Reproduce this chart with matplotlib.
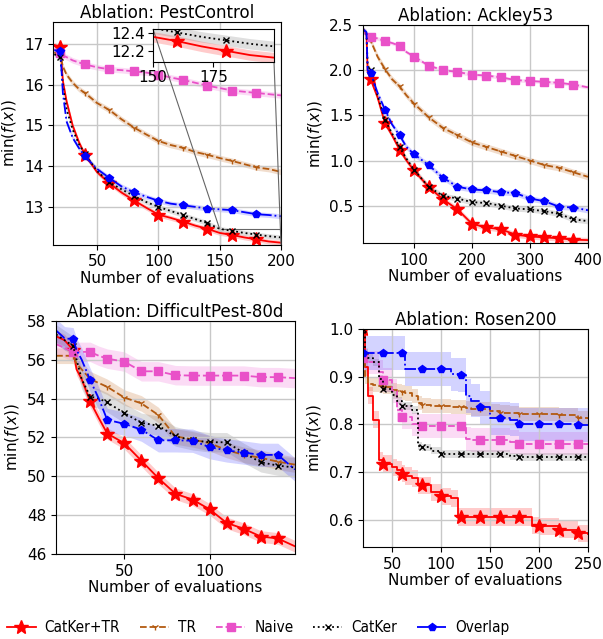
import matplotlib
matplotlib.use('Agg')
import matplotlib.pyplot as plt
from matplotlib.font_manager import FontProperties
from mpl_toolkits.axes_grid1.inset_locator import mark_inset

methods = ['CatKer+TR', 'TR', 'Naive', 'CatKer', 'Overlap']

# PestControl
x_pc = [15, 20, 22, 25, 30, 35, 40, 50, 60, 70, 80, 90, 100, 110, 120, 130, 140, 150, 160, 170, 180, 190, 200]
pc_catker_tr = [16.98, 16.92, 16.1, 15.6, 15.0, 14.6, 14.28, 13.85, 13.58, 13.35, 13.16, 12.98, 12.81, 12.73, 12.64, 12.54, 12.46, 12.36, 12.31, 12.25, 12.2, 12.15, 12.12]
pc_tr = [16.8, 16.7, 16.45, 16.25, 16.05, 15.9, 15.8, 15.55, 15.38, 15.15, 14.95, 14.78, 14.62, 14.52, 14.45, 14.35, 14.28, 14.2, 14.13, 14.05, 13.97, 13.93, 13.86]
pc_naive = [16.88, 16.78, 16.72, 16.68, 16.6, 16.55, 16.5, 16.43, 16.38, 16.36, 16.33, 16.3, 16.25, 16.18, 16.12, 16.05, 15.98, 15.92, 15.86, 15.83, 15.8, 15.77, 15.74]
pc_catker = [16.75, 16.68, 16.0, 15.4, 14.9, 14.55, 14.3, 13.88, 13.6, 13.43, 13.27, 13.12, 13.0, 12.9, 12.8, 12.7, 12.6, 12.46, 12.41, 12.36, 12.32, 12.28, 12.25]
pc_overlap = [16.85, 16.82, 15.8, 15.1, 14.7, 14.45, 14.24, 13.93, 13.71, 13.5, 13.36, 13.25, 13.15, 13.08, 13.04, 13.0, 12.96, 12.94, 12.92, 12.87, 12.82, 12.8, 12.77]
pc_err = [0.06, 0.07, 0.07, 0.06, 0.06]
pc_marks = [20, 40, 60, 80, 100, 120, 140, 160, 180]

# Ackley53
x_ak = [12, 18, 20, 25, 37, 50, 62, 75, 87, 100, 125, 150, 175, 200, 225, 250, 275, 300, 325, 350, 375, 400]
ak_catker_tr = [2.45, 2.4, 1.98, 1.9, 1.7, 1.41, 1.28, 1.12, 1.0, 0.89, 0.71, 0.57, 0.46, 0.3, 0.26, 0.24, 0.18, 0.16, 0.15, 0.14, 0.125, 0.12]
ak_tr = [2.45, 2.4, 2.36, 2.33, 2.15, 2.01, 1.9, 1.82, 1.72, 1.63, 1.48, 1.36, 1.28, 1.2, 1.15, 1.1, 1.05, 1.0, 0.95, 0.92, 0.87, 0.82]
ak_naive = [2.42, 2.39, 2.38, 2.37, 2.35, 2.32, 2.3, 2.27, 2.2, 2.15, 2.05, 2.0, 1.98, 1.95, 1.94, 1.92, 1.89, 1.88, 1.87, 1.86, 1.84, 1.81]
ak_catker = [2.45, 2.4, 2.05, 2.0, 1.72, 1.45, 1.3, 1.15, 1.02, 0.9, 0.71, 0.61, 0.58, 0.54, 0.53, 0.5, 0.47, 0.46, 0.44, 0.41, 0.35, 0.33]
ak_overlap = [2.45, 2.42, 2.0, 1.97, 1.75, 1.56, 1.4, 1.28, 1.15, 1.07, 0.95, 0.81, 0.71, 0.68, 0.67, 0.65, 0.64, 0.58, 0.55, 0.49, 0.48, 0.45]
ak_err = [0.03, 0.035, 0.02, 0.03, 0.03]
ak_marks = [25, 50, 75, 100, 125, 150, 175, 200, 225, 250, 275, 300, 325, 350, 375]

# DifficultPest-80d
x_dp = [10, 15, 20, 22, 25, 30, 35, 40, 50, 60, 70, 80, 90, 100, 110, 120, 130, 140, 150]
dp_catker_tr = [57.2, 57.0, 56.5, 55.5, 55.0, 53.85, 53.0, 52.2, 51.7, 50.8, 49.9, 49.1, 48.8, 48.3, 47.6, 47.3, 46.9, 46.8, 46.4]
dp_tr = [56.2, 56.2, 56.2, 55.8, 55.5, 55.0, 54.8, 54.6, 54.05, 53.75, 53.15, 52.05, 51.9, 51.7, 51.35, 51.1, 50.95, 50.75, 50.6]
dp_naive = [56.8, 56.6, 56.4, 56.4, 56.4, 56.4, 56.2, 56.05, 55.9, 55.4, 55.4, 55.2, 55.18, 55.18, 55.18, 55.18, 55.1, 55.1, 55.05]
dp_catker = [57.3, 57.0, 56.7, 56.0, 55.0, 54.1, 54.0, 53.8, 53.25, 52.75, 52.6, 52.05, 51.85, 51.75, 51.75, 51.2, 50.72, 50.55, 50.45]
dp_overlap = [57.5, 57.1, 57.05, 56.5, 56.0, 54.95, 54.0, 52.9, 52.7, 52.4, 51.85, 51.85, 51.83, 51.5, 51.33, 51.22, 51.1, 51.1, 50.35]
dp_err = [0.3, 0.4, 0.5, 0.5, 0.6]
dp_marks = [20, 30, 40, 50, 60, 70, 80, 90, 100, 110, 120, 130, 140]

# Rosen200
x_rs = [20, 22, 25, 30, 36, 40, 50, 55, 60, 63, 70, 76, 80, 90, 100, 110, 117, 120, 125, 130, 140, 150, 160, 170, 180, 193, 200, 220, 240, 250]
rs_catker_tr = [1.0, 0.92, 0.86, 0.81, 0.725, 0.718, 0.71, 0.705, 0.697, 0.692, 0.687, 0.672, 0.672, 0.658, 0.649, 0.645, 0.606, 0.606, 0.606, 0.606, 0.606, 0.606, 0.606, 0.606, 0.606, 0.588, 0.586, 0.579, 0.572, 0.571]
rs_tr = [0.95, 0.9, 0.885, 0.882, 0.88, 0.879, 0.872, 0.87, 0.867, 0.865, 0.86, 0.845, 0.84, 0.838, 0.838, 0.837, 0.836, 0.836, 0.835, 0.833, 0.832, 0.828, 0.825, 0.823, 0.822, 0.822, 0.822, 0.82, 0.813, 0.812]
rs_naive = [0.94, 0.935, 0.93, 0.93, 0.91, 0.893, 0.87, 0.83, 0.816, 0.816, 0.8, 0.797, 0.797, 0.797, 0.797, 0.797, 0.797, 0.797, 0.77, 0.768, 0.767, 0.767, 0.767, 0.763, 0.76, 0.76, 0.76, 0.76, 0.76, 0.76]
rs_catker = [1.0, 0.95, 0.94, 0.93, 0.895, 0.875, 0.862, 0.85, 0.839, 0.839, 0.83, 0.755, 0.752, 0.745, 0.738, 0.738, 0.738, 0.738, 0.738, 0.738, 0.738, 0.738, 0.738, 0.733, 0.732, 0.732, 0.732, 0.732, 0.732, 0.732]
rs_overlap = [0.95, 0.95, 0.95, 0.95, 0.95, 0.95, 0.95, 0.95, 0.95, 0.916, 0.916, 0.916, 0.916, 0.916, 0.916, 0.905, 0.904, 0.904, 0.86, 0.85, 0.836, 0.813, 0.813, 0.81, 0.8, 0.8, 0.8, 0.8, 0.799, 0.798]
rs_err = [0.018, 0.015, 0.025, 0.008, 0.035]
rs_marks = [20, 40, 60, 80, 100, 120, 140, 160, 180, 200, 220, 240]

# line styles per method
colors = ['#ff0000', '#b35a10', '#e951c8', 'black', '#0000ff']
band_colors = ['#ff3030', '#c87a3a', '#f070d8', '#808080', '#5050ff']
lstyles = ['-', '--', '--', ':', '-.']
markers = ['*', '1', 's', 'x', 'p']
msizes = [10, 5, 6, 5, 6]

plt.rcParams['font.family'] = 'DejaVu Sans'
fig = plt.figure(figsize=(6.03, 6.39), dpi=100)


def draw(ax, x, series, errs, marks, steps=False):
    idx = [i for i, v in enumerate(x) if v in marks]
    ds = 'steps-post' if steps else 'default'
    for k, y in enumerate(series):
        lo = [v - errs[k] for v in y]
        hi = [v + errs[k] for v in y]
        ax.fill_between(x, lo, hi, color=band_colors[k], alpha=0.25, lw=0,
                        step='post' if steps else None)
        ax.plot(x, y, color=colors[k], ls=lstyles[k], marker=markers[k],
                ms=msizes[k], markevery=idx, drawstyle=ds, lw=1.3,
                label=methods[k])
    ax.grid(True, color='#c8c8c8', lw=1)
    ax.tick_params(labelsize=11)
    ax.set_ylabel(r'$\min(f(x))$', fontsize=11)


ax1 = fig.add_axes([0.088, 0.617, 0.378, 0.349])
draw(ax1, x_pc, [pc_catker_tr, pc_tr, pc_naive, pc_catker, pc_overlap], pc_err, pc_marks)
ax1.set_xlim(14, 200)
ax1.set_ylim(12.07, 17.55)
ax1.set_xticks([50, 100, 150, 200])
ax1.set_yticks([13, 14, 15, 16, 17])
ax1.set_title('Ablation: PestControl', fontsize=12, pad=3)
ax1.set_xlabel('Number of evaluations', fontsize=11, labelpad=1)

axin = fig.add_axes([0.2537, 0.903, 0.2007, 0.0516])
for k, y in enumerate([pc_catker_tr, pc_tr, pc_naive, pc_catker, pc_overlap]):
    lo = [v - pc_err[k] for v in y]
    hi = [v + pc_err[k] for v in y]
    axin.fill_between(x_pc, lo, hi, color=band_colors[k], alpha=0.25, lw=0)
    axin.plot(x_pc, y, color=colors[k], ls=lstyles[k], marker=markers[k],
              ms=msizes[k], markevery=[i for i, v in enumerate(x_pc) if v in pc_marks], lw=1.3)
axin.set_xlim(150, 200)
axin.set_ylim(12.07, 12.45)
axin.set_xticks([150, 175])
axin.set_yticks([12.2, 12.4])
axin.tick_params(labelsize=11, pad=2)
mark_inset(ax1, axin, loc1=2, loc2=4, fc='none', ec='0.4', lw=0.8)

ax2 = fig.add_axes([0.602, 0.620, 0.373, 0.341])
draw(ax2, x_ak, [ak_catker_tr, ak_tr, ak_naive, ak_catker, ak_overlap], ak_err, ak_marks)
ax2.set_xlim(12, 400)
ax2.set_ylim(0.09, 2.5)
ax2.set_xticks([100, 200, 300, 400])
ax2.set_yticks([0.5, 1.0, 1.5, 2.0, 2.5])
ax2.set_title('Ablation: Ackley53', fontsize=12, pad=3)
ax2.set_xlabel('Number of evaluations', fontsize=11, labelpad=1)

ax3 = fig.add_axes([0.093, 0.133, 0.396, 0.365])
draw(ax3, x_dp, [dp_catker_tr, dp_tr, dp_naive, dp_catker, dp_overlap], dp_err, dp_marks)
ax3.set_xlim(10, 150)
ax3.set_ylim(46, 58)
ax3.set_xticks([50, 100])
ax3.set_yticks([46, 48, 50, 52, 54, 56, 58])
ax3.set_title('Ablation: DifficultPest-80d', fontsize=12, pad=3)
ax3.set_xlabel('Number of evaluations', fontsize=11, labelpad=1)

ax4 = fig.add_axes([0.602, 0.144, 0.373, 0.341])
draw(ax4, x_rs, [rs_catker_tr, rs_tr, rs_naive, rs_catker, rs_overlap], rs_err, rs_marks, steps=True)
ax4.set_xlim(20, 250)
ax4.set_ylim(0.543, 1.0)
ax4.set_xticks([50, 100, 150, 200, 250])
ax4.set_yticks([0.6, 0.7, 0.8, 0.9, 1.0])
ax4.set_title('Ablation: Rosen200', fontsize=12, pad=3)
ax4.set_xlabel('Number of evaluations', fontsize=11, labelpad=1)

handles, labels = ax1.get_legend_handles_labels()
leg_font = FontProperties(family='DejaVu Sans', stretch='condensed', size=11)
fig.legend(handles, labels, loc='lower left', bbox_to_anchor=(-0.012, -0.016),
           ncol=5, frameon=False, prop=leg_font, handlelength=1.9,
           columnspacing=1.3, handletextpad=0.6)

fig.savefig('out.png', dpi=100)
